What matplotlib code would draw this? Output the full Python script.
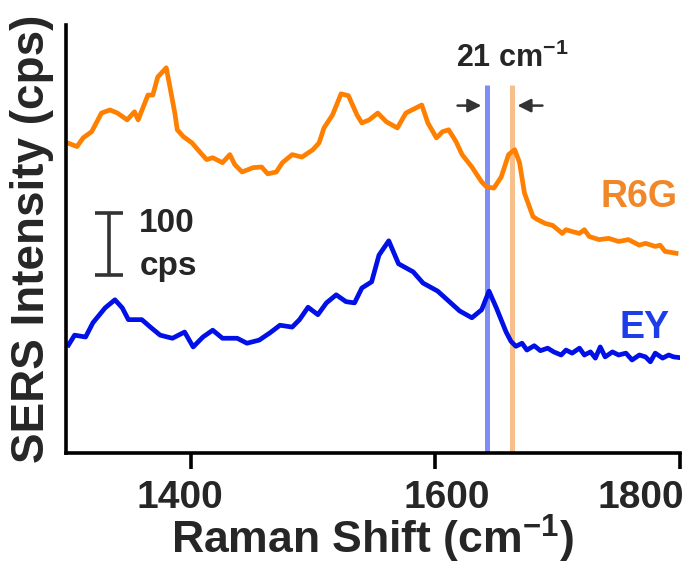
import matplotlib
matplotlib.use("Agg")
import matplotlib.pyplot as plt
from matplotlib.transforms import ScaledTranslation

plt.rcParams["font.family"] = ["Liberation Sans", "DejaVu Sans"]
plt.rcParams["font.weight"] = "bold"
plt.rcParams["axes.labelweight"] = "bold"
plt.rcParams["mathtext.fontset"] = "custom"
plt.rcParams["mathtext.rm"] = "Liberation Sans:bold"
plt.rcParams["mathtext.bf"] = "Liberation Sans:bold"
plt.rcParams["mathtext.default"] = "rm"

# R6G spectrum (offset)
r6g_shift = [1299, 1307, 1312, 1319, 1327, 1334, 1340, 1348, 1354, 1357, 1365, 1369,
             1373, 1380, 1383, 1387, 1389, 1394, 1401, 1408, 1413, 1418, 1426, 1432,
             1436, 1442, 1451, 1458, 1463, 1470, 1475, 1483, 1491, 1500, 1505, 1509,
             1516, 1523, 1529, 1536, 1540, 1546, 1553, 1560, 1569, 1576, 1589, 1594,
             1601, 1606, 1611, 1617, 1622, 1630, 1638, 1642, 1648, 1654, 1660, 1665,
             1669, 1673, 1680, 1684, 1690, 1696, 1704, 1707, 1712, 1718, 1722, 1726,
             1734, 1742, 1750, 1758, 1767, 1772, 1780, 1784, 1788, 1797]
r6g_int = [500, 494, 508, 518, 548, 553, 548, 537, 550, 537, 577, 577,
           606, 621, 590, 548, 521, 510, 500, 484, 473, 476, 468, 481,
           465, 453, 460, 461, 450, 453, 468, 481, 477, 489, 500, 524,
           545, 579, 576, 545, 532, 537, 548, 534, 524, 548, 561, 532,
           508, 518, 521, 502, 481, 461, 437, 429, 427, 445, 481, 489,
           468, 419, 381, 376, 370, 367, 354, 360, 357, 354, 360, 349,
           344, 346, 341, 344, 335, 338, 333, 335, 325, 322]

# EY spectrum
ey_shift = [1300, 1305, 1314, 1320, 1330, 1338, 1344, 1349, 1360, 1367, 1375, 1385,
            1395, 1402, 1410, 1418, 1426, 1438, 1446, 1456, 1465, 1473, 1483, 1489,
            1496, 1504, 1511, 1519, 1527, 1534, 1540, 1548, 1554, 1562, 1570, 1582,
            1590, 1602, 1611, 1620, 1630, 1638, 1644, 1650, 1658, 1662, 1666, 1671,
            1675, 1681, 1686, 1692, 1697, 1703, 1707, 1712, 1718, 1722, 1727, 1731,
            1735, 1739, 1745, 1750, 1756, 1761, 1767, 1772, 1776, 1780, 1786, 1791,
            1795, 1799]
ey_int = [174, 190, 187, 210, 234, 247, 234, 215, 215, 203, 190, 185,
          195, 171, 187, 198, 185, 185, 177, 182, 194, 206, 203, 215,
          235, 223, 242, 255, 244, 242, 266, 276, 319, 342, 305, 292,
          274, 261, 245, 229, 218, 231, 261, 234, 195, 180, 172, 177,
          166, 173, 165, 169, 163, 158, 166, 161, 169, 158, 163, 153,
          171, 155, 163, 158, 161, 150, 158, 155, 147, 161, 153, 158,
          155, 154]

ey_peak = 1642
r6g_peak = 1663
scale_cps = 100
xticks = [1400, 1600, 1800]

fig = plt.figure(figsize=(6.95, 5.67), dpi=100)
ax = fig.add_axes([0.095, 0.201, 0.883, 0.755])

ax.vlines(ey_peak, 0, 594, color="#7f8ef7", lw=3.6, zorder=1)
ax.vlines(r6g_peak, 0, 594, color="#f7bf8c", lw=3.6, zorder=1)

ax.plot(r6g_shift, r6g_int, color="#ff8000", lw=3.4, zorder=2)
ax.plot(ey_shift, ey_int, color="#0010e6", lw=3.4, zorder=2)

# peak spacing arrows
ax.annotate("", xy=(ey_peak - 2, 560), xytext=(ey_peak - 26, 560),
            arrowprops=dict(arrowstyle="-|>", color="#333333", lw=1.8, mutation_scale=20))
ax.annotate("", xy=(r6g_peak + 2, 560), xytext=(r6g_peak + 27, 560),
            arrowprops=dict(arrowstyle="-|>", color="#333333", lw=1.8, mutation_scale=20))
ax.text(1617, 623, f"{r6g_peak - ey_peak} cm$^{{-1}}$", fontsize=22,
        color="#262626", ha="left", va="baseline")

# scale bar
ax.errorbar(1333, 337, yerr=scale_cps / 2, fmt="none", ecolor="#333333",
            elinewidth=2.6, capsize=10, capthick=2.6)
ax.text(1358, 356, f"{scale_cps}", fontsize=24, color="#262626", ha="left", va="baseline")
ax.text(1358, 287, "cps", fontsize=24, color="#262626", ha="left", va="baseline")

ax.text(1735, 397, "R6G", fontsize=27, color="#f0882a", ha="left", va="baseline")
ax.text(1751, 185, "EY", fontsize=27, color="#1c3de8", ha="left", va="baseline")

ax.set_xlim(1298, 1800)
ax.set_ylim(0, 690)
ax.set_xticks(xticks)
ax.set_yticks([])
ax.tick_params(axis="x", direction="out", length=11.5, width=2.6, pad=8,
               labelsize=28, labelcolor="#262626")
for lab, dx in zip(ax.get_xticklabels(), [-11, 12, -39]):
    lab.set_transform(lab.get_transform() + ScaledTranslation(dx / 100, 0, fig.dpi_scale_trans))

ax.spines["top"].set_visible(False)
ax.spines["right"].set_visible(False)
ax.spines["left"].set_linewidth(2.6)
ax.spines["bottom"].set_linewidth(2.6)

ax.set_xlabel("Raman Shift (cm$^{-1}$)", fontsize=32, color="#262626")
ax.set_ylabel("SERS Intensity (cps)", fontsize=33, color="#262626")
ax.xaxis.set_label_coords(0.5, -0.236)
ax.xaxis.label.set_verticalalignment("baseline")
ax.yaxis.set_label_coords(-0.02, 0.5)

fig.savefig("out.png", dpi=100)
